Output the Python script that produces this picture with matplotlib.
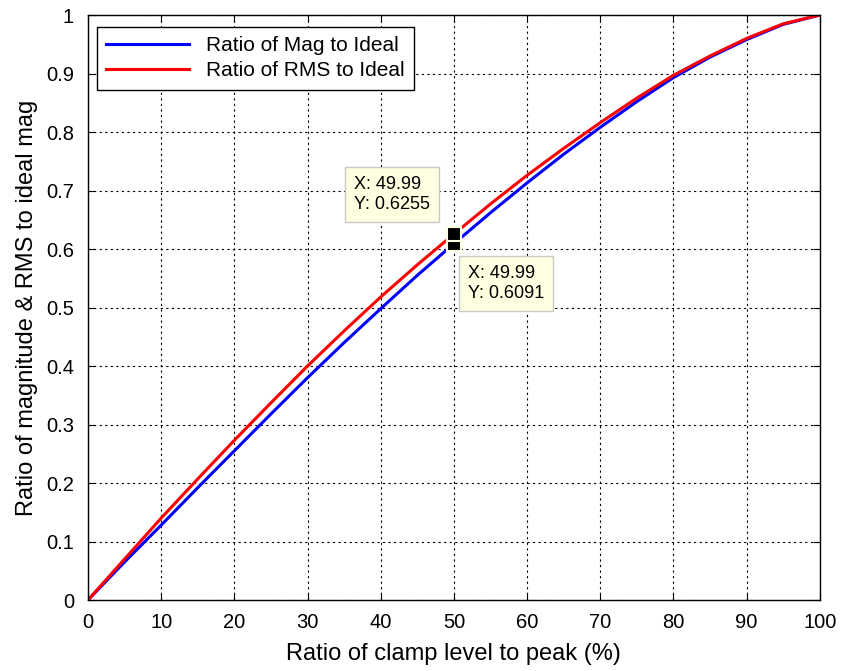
import matplotlib.pyplot as plt

plt.rcParams['font.family'] = ['Liberation Sans', 'DejaVu Sans']

# clamp level (% of peak)
clamp = [0, 5, 10, 15, 20, 25, 30, 35, 40, 45, 50, 55, 60, 65, 70, 75, 80, 85, 90, 95, 100]
# ratio of fundamental magnitude to ideal
mag_ratio = [0, 0.065, 0.128, 0.192, 0.255, 0.318, 0.380, 0.440, 0.498, 0.555, 0.6091,
             0.662, 0.713, 0.762, 0.808, 0.852, 0.893, 0.928, 0.958, 0.984, 1.0]
# ratio of RMS to ideal
rms_ratio = [0, 0.070, 0.140, 0.207, 0.273, 0.337, 0.400, 0.460, 0.518, 0.573, 0.6255,
             0.677, 0.726, 0.772, 0.816, 0.858, 0.897, 0.930, 0.960, 0.985, 1.0]

tip_x = 49.99
tip_mag = 0.6091
tip_rms = 0.6255

fig = plt.figure(figsize=(8.46, 6.71), dpi=100)
ax = fig.add_axes([0.104, 0.1058, 0.865, 0.8718])

ax.plot(clamp, mag_ratio, color='#0000ff', lw=2.2, label='Ratio of Mag to Ideal')
ax.plot(clamp, rms_ratio, color='#ff0000', lw=2.2, label='Ratio of RMS to Ideal')

ax.set_xlim(0, 100)
ax.set_ylim(0, 1)
ax.set_xticks(range(0, 101, 10))
ax.set_yticks([i / 10 for i in range(11)])
ax.set_yticklabels(['0', '0.1', '0.2', '0.3', '0.4', '0.5', '0.6', '0.7', '0.8', '0.9', '1'])
ax.tick_params(direction='in', top=True, right=True, labelsize=14.5, length=5, width=0.8)
ax.tick_params(axis='x', pad=9)
ax.tick_params(axis='y', pad=10)
ax.grid(True, color='black', linestyle=(0, (2, 3)), linewidth=0.8)
for s in ax.spines.values():
    s.set_linewidth(1.0)

ax.set_xlabel('Ratio of clamp level to peak (%)', fontsize=17, labelpad=8)
ax.set_ylabel('Ratio of magnitude & RMS to ideal mag', fontsize=17, labelpad=6)

# data tips
ax.plot([tip_x], [tip_mag], 's', ms=10, mfc='black', mec='#ffffe1', mew=1.5, zorder=5)
ax.plot([tip_x], [tip_rms], 's', ms=10, mfc='black', mec='#ffffe1', mew=1.5, zorder=6)
tip_box = dict(boxstyle='square,pad=0.5', fc='#ffffe1', ec='#c8c8c8', lw=1)
ax.text(36.3, 0.693, 'X: %.2f\nY: %.4f' % (tip_x, tip_rms), fontsize=13, va='center',
        ha='left', linespacing=1.2, bbox=tip_box, zorder=7)
ax.text(51.9, 0.541, 'X: %.2f\nY: %.4f' % (tip_x, tip_mag), fontsize=13, va='center',
        ha='left', linespacing=1.2, bbox=tip_box, zorder=7)

leg = ax.legend(loc='upper left', bbox_to_anchor=(0.012, 0.98), fontsize=15,
                fancybox=False, edgecolor='black', framealpha=1, borderaxespad=0,
                handlelength=4.0, handletextpad=0.8, borderpad=0.45, labelspacing=0.3)
leg.get_frame().set_linewidth(1.0)

fig.savefig('out.png', dpi=100)
